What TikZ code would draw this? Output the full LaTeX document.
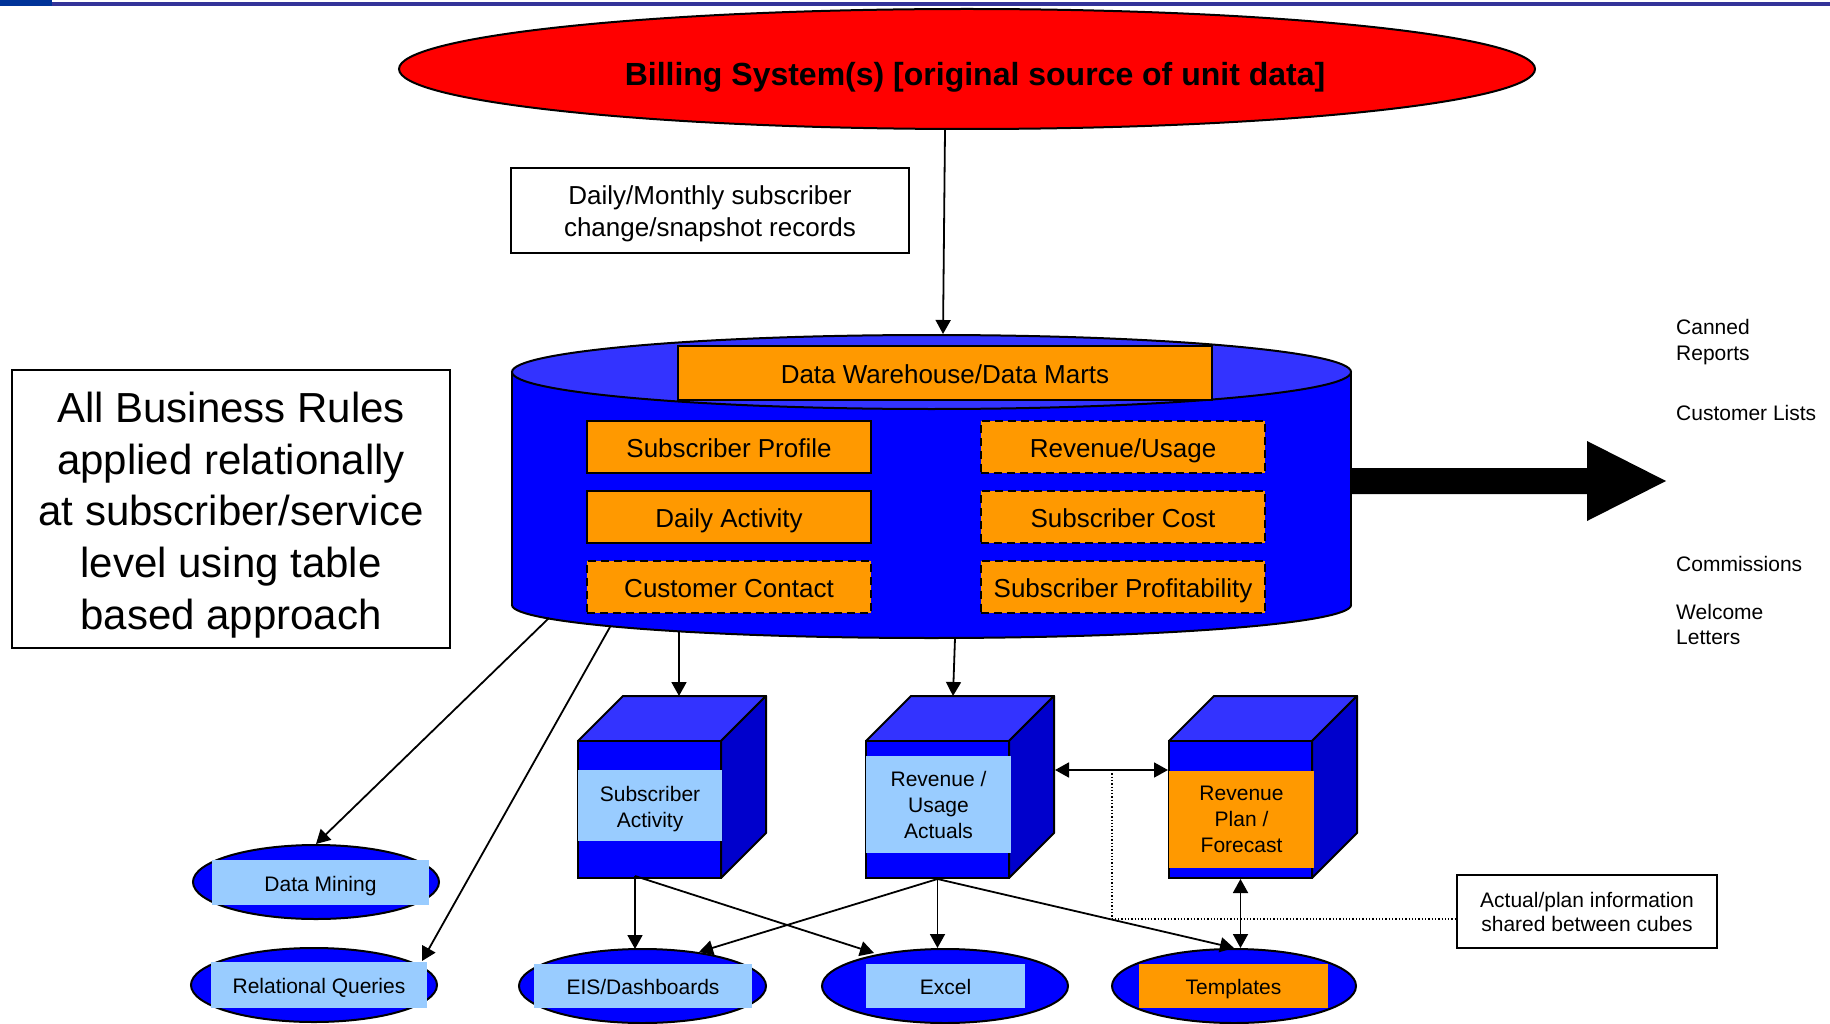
\documentclass[tikz,border=0pt]{standalone}
\usepackage{fontspec}
\setmainfont{Liberation Sans}
\usetikzlibrary{shapes.geometric,arrows.meta}
\definecolor{cylblue}{HTML}{0000FF}
\definecolor{topblue}{HTML}{3333FF}
\definecolor{sideblue}{HTML}{0000CC}
\definecolor{myorange}{HTML}{FF9900}
\definecolor{lightblue}{HTML}{99CCFF}
\definecolor{billred}{HTML}{FF0000}
\definecolor{barline}{HTML}{333399}
\definecolor{barblock}{HTML}{003399}
\newcommand\myfs[2]{\fontsize{#1}{#2}\selectfont}
\begin{document}
\begin{tikzpicture}[x=1pt,y=-1pt,
  arr/.style={line width=1.8pt,-{Triangle[length=14pt,width=15pt]}},
  darr/.style={line width=1.8pt,{Triangle[length=14pt,width=15pt]}-{Triangle[length=14pt,width=15pt]}},
  obox/.style={draw=black,line width=2pt,fill=myorange,minimum width=284pt,minimum height=52pt,inner sep=0pt,font=\myfs{26}{31},text height=21.3pt,text depth=0pt},
  dbox/.style={obox,dash pattern=on 8pt off 5pt},
  oval/.style={ellipse,draw=black,line width=2pt,fill=cylblue,minimum width=246pt,minimum height=74pt,inner sep=0pt},
  band/.style={inner sep=0pt,font=\myfs{21}{26},align=center},
  sband/.style={inner sep=0pt,font=\myfs{21}{26},text height=17.9pt,text depth=0pt},
  cubefront/.style={draw=black,line width=2pt,fill=cylblue,minimum width=143pt,minimum height=137pt,inner sep=0pt},
  note/.style={draw=black,line width=1.6pt,fill=white,inner sep=0pt,align=center},
  txt/.style={inner sep=0pt,align=center},
  side/.style={inner sep=0pt,anchor=west,align=left,font=\myfs{21}{25}}
]
\useasboundingbox (0,0) rectangle (1830,1024);
\fill[white] (0,0) rectangle (1830,1024);
% top bar
\fill[barline] (0,2) rectangle (1830,6);
\fill[barblock] (0,0) rectangle (52,6);

% billing system
\node[ellipse,draw=black,line width=2pt,fill=billred,minimum width=1136pt,minimum height=120pt,inner sep=0pt] (bill) at (967,69) {};
\node[txt,font=\bfseries\myfs{32}{38}] (billtxt) at (975,77) {Billing System(s) [original source of unit data]};

% note box
\node[note,minimum width=398pt,minimum height=85pt] (daily) at (710,210.5) {};
\node[txt,font=\myfs{26}{32}] (dailytxt) at (710,214) {Daily/Monthly subscriber\\change/snapshot records};

% business rules box
\node[note,minimum width=438pt,minimum height=278pt] (rules) at (231,509) {};
\node[txt,font=\myfs{42}{51.7}] (rulestxt) at (231,515) {All Business Rules\\applied relationally\\at subscriber/service\\level using table\\based approach};

% cylinder
\filldraw[fill=cylblue,draw=black,line width=2pt] (931.5,605) ellipse [x radius=419.5pt, y radius=33pt];
\fill[cylblue] (512,372) rectangle (1351,605);
\draw[line width=2pt] (512,372) -- (512,605);
\draw[line width=2pt] (1351,372) -- (1351,605);
\filldraw[fill=topblue,draw=black,line width=2pt] (931.5,372) ellipse [x radius=419.5pt, y radius=37pt];

\node[obox,minimum width=534pt,minimum height=54pt] (dw) at (945,373) {Data Warehouse/Data Marts};
\node[obox] (sp) at (729,447) {Subscriber Profile};
\node[obox] (da) at (729,517) {Daily Activity};
\node[dbox] (cc) at (729,586.5) {Customer Contact};
\node[dbox] (ru) at (1123,447) {Revenue/Usage};
\node[dbox] (sc) at (1123,517) {Subscriber Cost};
\node[dbox] (spf) at (1123,586.5) {Subscriber Profitability};

% big arrow
\fill[black] (1350,468) -- (1587,468) -- (1587,441) -- (1666,481) -- (1587,521) -- (1587,494) -- (1350,494) -- cycle;

% right labels
\node[side,font=\myfs{21}{26.5}] (canned) at (1676,342) {Canned\\Reports};
\node[side] (clists) at (1676,413) {Customer Lists};
\node[side] (comm) at (1676,563.5) {Commissions};
\node[side] (welc) at (1676,624.5) {Welcome\\Letters};

% cubes
\foreach \cx/\nm in {578/c1,866/c2,1169/c3}{
  \filldraw[fill=topblue,draw=black,line width=2pt,line join=round] (\cx,741) -- ++(45,-45) -- ++(143,0) -- ++(-45,45) -- cycle;
  \filldraw[fill=sideblue,draw=black,line width=2pt,line join=round] (\cx+143,741) -- ++(45,-45) -- ++(0,137) -- ++(-45,45) -- cycle;
  \node[cubefront] (\nm) at (\cx+71.5,809.5) {};
}
\node[band,fill=lightblue,minimum width=144pt,minimum height=71pt] (c1t) at (650,805.5) {};
\node[band] (c1txt) at (650,809) {Subscriber\\Activity};
\node[band,fill=lightblue,minimum width=145pt,minimum height=97pt] (c2t) at (938.5,804.5) {Revenue /\\Usage\\Actuals};
\node[band,fill=myorange,minimum width=145pt,minimum height=97pt] (c3t) at (1241.5,819.5) {Revenue\\Plan /\\Forecast};

% bottom ovals
\node[oval] (dm) at (316,882) {};
\node[sband,fill=lightblue,minimum width=217pt,minimum height=45pt] (dmt) at (320.5,882.5) {Data Mining};
\node[oval] (rq) at (314,985) {};
\node[sband,fill=lightblue,minimum width=216pt,minimum height=46pt] (rqt) at (319,985) {Relational Queries};
\node[oval,minimum width=247pt] (eis) at (642.5,986) {};
\node[sband,fill=lightblue,minimum width=218pt,minimum height=44pt] (eist) at (643,986) {EIS/Dashboards};
\node[oval] (xl) at (945,986) {};
\node[sband,fill=lightblue,minimum width=159pt,minimum height=44pt] (xlt) at (945.5,986) {Excel};
\node[oval,minimum width=244pt] (tp) at (1234,986) {};
\node[sband,fill=myorange,minimum width=189pt,minimum height=44pt] (tpt) at (1233.5,986) {Templates};

% note actual/plan
\node[note,minimum width=260pt,minimum height=73pt,font=\myfs{21}{24}] (ap) at (1587,911.5) {Actual/plan information\\shared between cubes};

% coordinates
\coordinate (bsrc) at (945,130);
\coordinate (btgt) at (943,334);
\coordinate (cylA) at (549,618);
\coordinate (cylB) at (610,627);
\coordinate (cylC) at (679,632);
\coordinate (cylD) at (955,638);
\coordinate (c1top) at (679,696);
\coordinate (c2top) at (953,696);
\coordinate (rqhit) at (422,961);
\coordinate (c1b) at (635,876);
\coordinate (eisA) at (635,949);
\coordinate (eisB) at (699,952);
\coordinate (xlA) at (874,953);
\coordinate (c2r) at (1055,770);
\coordinate (c3l) at (1168,770);
\coordinate (dotA) at (1112,770);
\coordinate (dotB) at (1112,919);

% connectors
\draw[arr] (bsrc) -- (btgt);
\draw[arr] (cylA) -- (dm.north);
\draw[arr] (cylB) -- (rqhit);
\draw[arr] (cylC) -- (c1top);
\draw[arr] (cylD) -- (c2top);
\draw[arr] (c1b) -- (eisA);
\draw[arr] (c1b) -- (xlA);
\draw[arr] (c2.south) -- (eisB);
\draw[arr] (c2.south) -- (c2.south |- xl.north);
\draw[arr] (c2.south) -- (tp.north);
\draw[darr] (c2r) -- (c3l);
\draw[darr] (c3.south) -- (c3.south |- tp.north);
\draw[dotted,line width=1.3pt] (dotA) -- (dotB) -- (dotB -| ap.west);
\end{tikzpicture}
\end{document}
